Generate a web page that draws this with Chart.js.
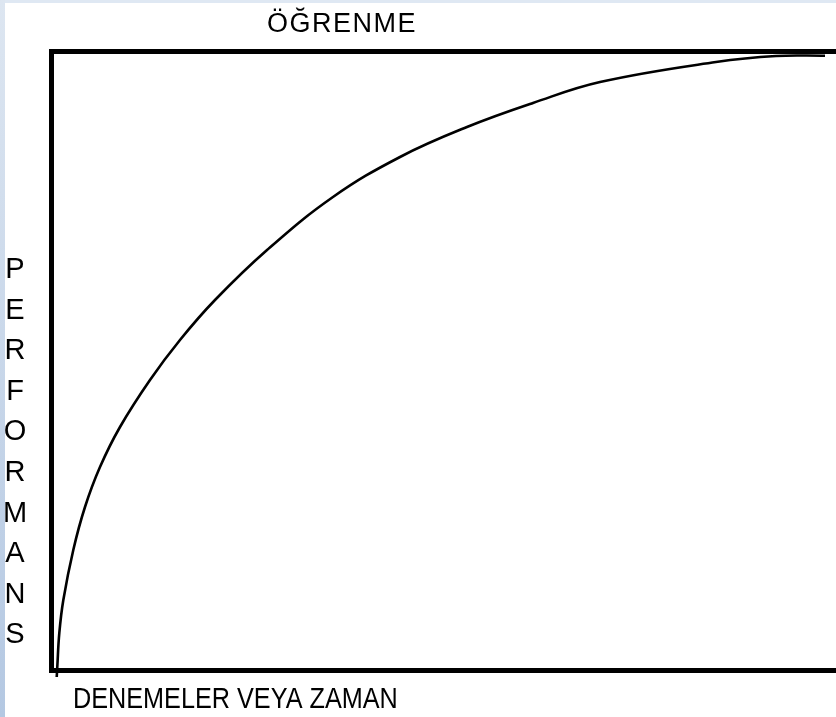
<!DOCTYPE html>
<html lang="tr">
<head>
<meta charset="utf-8">
<title>Öğrenme eğrisi</title>
<script src="https://cdn.jsdelivr.net/npm/chart.js@4.4.1/dist/chart.umd.min.js"></script>
<style>
  html, body { margin: 0; padding: 0; background: #fff; }
  #kutu { width: 836px; height: 717px; position: relative; }
</style>
</head>
<body>
<div id="kutu"><canvas id="grafik"></canvas></div>
<script>
// egri verisi
const denemeler = [0.73, 0.80, 1.06, 1.57, 2.84, 4.33, 6.24, 8.79, 12.61, 16.43, 20.89, 27.52, 35.92, 44.46, 52.99, 61.40, 69.94, 84.71, 92.36, 98.6];
const performans = [-1.13, 0.48, 5.98, 11.31, 19.39, 26.33, 32.79, 39.26, 46.85, 53.31, 59.77, 67.85, 76.41, 82.88, 87.72, 91.60, 94.99, 98.22, 99.19, 99.24];

const baslik = 'ÖĞRENME';
const xBaslik = 'DENEMELER VEYA ZAMAN';
const yHarfler = ['P', 'E', 'R', 'F', 'O', 'R', 'M', 'A', 'N', 'S'];

const noktalar = denemeler.map((x, i) => ({ x: x, y: performans[i] }));

// arka plan seridi ve yazilar
const yazilar = {
    id: 'yazilar',
    beforeDraw(chart) {
        const ctx = chart.ctx;
        ctx.save();
        ctx.fillStyle = '#ffffff';
        ctx.fillRect(0, 0, chart.width, chart.height);
        ctx.fillStyle = '#dfe8f3';
        ctx.fillRect(0, 0, chart.width, 3);
        const g = ctx.createLinearGradient(0, 0, 0, chart.height);
        g.addColorStop(0, '#dde6f1');
        g.addColorStop(1, '#b4c8e2');
        ctx.fillStyle = g;
        ctx.fillRect(0, 0, 5, chart.height);
        ctx.restore();
    },
    afterDraw(chart) {
        const ctx = chart.ctx;
        const alan = chart.chartArea;
        ctx.save();
        ctx.fillStyle = '#000';
        ctx.textBaseline = 'alphabetic';

        // ust baslik
        ctx.font = '27px "Liberation Sans", Arial, sans-serif';
        ctx.letterSpacing = '1.5px';
        ctx.textAlign = 'center';
        ctx.fillText(baslik, 342, 32);
        ctx.letterSpacing = '0px';

        // x ekseni basligi (biraz dar)
        ctx.font = '29px "Liberation Sans", Arial, sans-serif';
        ctx.textAlign = 'left';
        ctx.save();
        ctx.translate(73, alan.bottom + 38);
        ctx.scale(0.87, 1);
        ctx.fillText(xBaslik, 0, 0);
        ctx.restore();

        // y ekseni: harfler alt alta
        ctx.textAlign = 'center';
        yHarfler.forEach((h, i) => {
            ctx.fillText(h, 15, 278 + i * 40.6);
        });
        ctx.restore();
    }
};

const kenar = { display: true, width: 5, color: '#000' };

new Chart(document.getElementById('grafik'), {
    type: 'line',
    data: {
        datasets: [{
            label: 'Öğrenme',
            data: noktalar,
            borderColor: '#000',
            borderWidth: 2.6,
            pointRadius: 0,
            fill: false,
            tension: 0.4,
            clip: false
        }]
    },
    options: {
        responsive: true,
        maintainAspectRatio: false,
        animation: false,
        layout: { padding: { left: 51, top: 51, right: 0, bottom: 47 } },
        plugins: {
            legend: { display: false },
            tooltip: { enabled: false },
            title: { display: false }
        },
        scales: {
            x: {
                type: 'linear',
                min: 0,
                max: 100,
                ticks: { display: false },
                grid: { display: false, drawTicks: false },
                border: kenar
            },
            xUst: {
                type: 'linear',
                axis: 'x',
                position: 'top',
                min: 0,
                max: 100,
                ticks: { display: false },
                grid: { display: false, drawTicks: false },
                border: kenar
            },
            y: {
                type: 'linear',
                min: 0,
                max: 100,
                ticks: { display: false },
                grid: { display: false, drawTicks: false },
                border: kenar
            }
        }
    },
    plugins: [yazilar]
});
</script>
</body>
</html>
